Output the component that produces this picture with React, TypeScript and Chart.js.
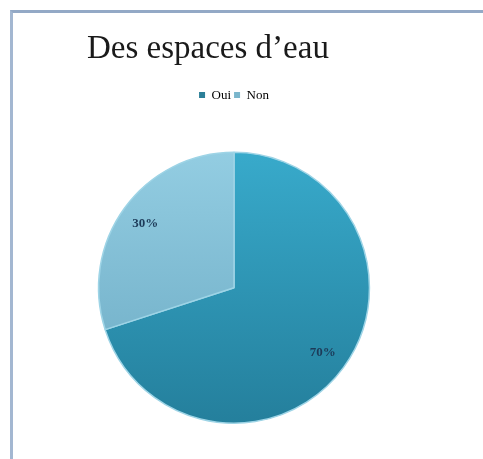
import React, { useEffect, useRef } from "react";
import { Chart, registerables } from "chart.js";

Chart.register(...registerables);

const categories = ["Oui", "Non"];
const values = [70, 30];
const valueLabels = ["70%", "30%"];
const titleText = "Des espaces d\u2019eau";

const topColors = ["#38aacb", "#93cde2"];
const bottomColors = ["#247f9c", "#6aa9c2"];
const legendColors = ["#2c7f98", "#7bb6cc"];

const labelPlugin = {
  id: "sliceLabels",
  afterDatasetsDraw(chart: any) {
    const ctx = chart.ctx;
    const meta = chart.getDatasetMeta(0);
    ctx.save();
    ctx.font = "bold 13px 'Liberation Serif', serif";
    ctx.fillStyle = "#1d3a58";
    ctx.textAlign = "center";
    ctx.textBaseline = "middle";
    meta.data.forEach((arc: any, i: number) => {
      const p = arc.getProps(["x", "y", "startAngle", "endAngle", "outerRadius"], true);
      const mid = (p.startAngle + p.endAngle) / 2;
      const r = p.outerRadius * 0.81;
      ctx.fillText(valueLabels[i], p.x + Math.cos(mid) * r, p.y + Math.sin(mid) * r);
    });
    ctx.restore();
  },
};

const legendGap = {
  id: "legendGap",
  beforeInit(chart: any) {
    const legend = chart.legend;
    if (!legend) return;
    const orig = legend.fit;
    legend.fit = function () {
      orig.call(this);
      this.height += 40;
    };
  },
};

export default function App() {
  const ref = useRef<HTMLCanvasElement>(null);
  useEffect(() => {
    if (!ref.current) return;
    const chart = new Chart(ref.current, {
      type: "pie",
      data: {
        labels: categories,
        datasets: [
          {
            data: values,
            backgroundColor: (c: any) => {
              const area = c.chart.chartArea;
              const i = c.dataIndex;
              if (!area) return topColors[i];
              const g = c.chart.ctx.createLinearGradient(0, area.top, 0, area.bottom);
              g.addColorStop(0, topColors[i]);
              g.addColorStop(1, bottomColors[i]);
              return g;
            },
            borderColor: "#9ed4e6",
            borderWidth: 1.5,
          },
        ],
      },
      options: {
        animation: false,
        responsive: false,
        layout: { padding: { left: 87, right: 102, top: 30, bottom: 35 } },
        plugins: {
          title: {
            display: true,
            text: titleText,
            align: "start",
            color: "#1a1a1a",
            font: { family: "'Liberation Serif', serif", size: 33, weight: "normal" },
            padding: { top: 0, bottom: 16 },
          },
          legend: {
            display: true,
            position: "top",
            labels: {
              boxWidth: 6,
              boxHeight: 6,
              padding: 3,
              color: "#333",
              font: { family: "'Liberation Serif', serif", size: 13 },
              generateLabels: () =>
                categories.map((t, i) => ({
                  text: t,
                  fillStyle: legendColors[i],
                  strokeStyle: legendColors[i],
                  lineWidth: 0,
                  hidden: false,
                  index: i,
                })),
            },
          },
          tooltip: { enabled: false },
        },
      },
      plugins: [legendGap, labelPlugin],
    });
    return () => chart.destroy();
  }, []);
  return (
    <div style={{ position: "absolute", left: 0, top: 0, width: 483, height: 459, background: "#fff", overflow: "hidden" }}>
      <div
        style={{
          position: "absolute",
          left: 10,
          top: 10,
          width: 480,
          height: 447,
          borderTop: "3px solid #93a9c6",
          borderLeft: "3px solid #a3b7d1",
        }}
      />
      <canvas ref={ref} width={483} height={459} style={{ position: "absolute", left: 0, top: 0 }} />
    </div>
  );
}
